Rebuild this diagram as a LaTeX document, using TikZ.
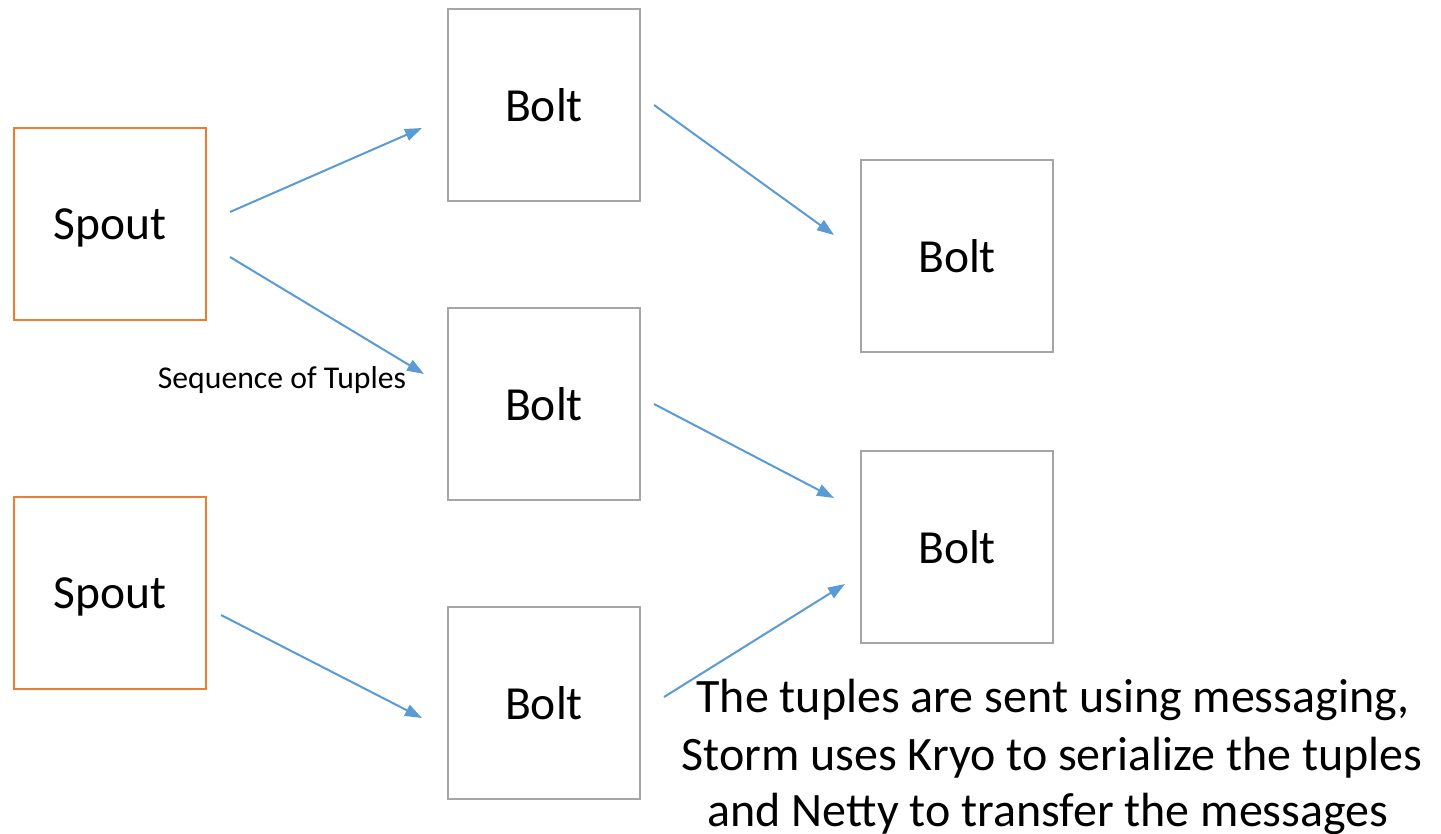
\documentclass[tikz,border=0pt]{standalone}
\usepackage{fontspec}
\setmainfont{Carlito}
\usetikzlibrary{arrows.meta}
\definecolor{spoutorange}{HTML}{ED7D31}
\definecolor{boltgray}{HTML}{A5A5A5}
\definecolor{flowblue}{HTML}{5B9BD5}
\begin{document}
\begin{tikzpicture}[x=1pt,y=-1pt,
  box/.style={draw, line width=2pt, minimum width=192pt, minimum height=192pt,
    inner sep=0pt, text depth=0pt, font=\fontsize{47.5}{56}\selectfont},
  spoutbox/.style={box, draw=spoutorange},
  boltbox/.style={box, draw=boltgray},
  flow/.style={draw=flowblue, line width=2pt,
    -{Triangle[length=17pt,width=12pt]}},
  note/.style={anchor=base, inner sep=0pt, font=\fontsize{48}{57}\selectfont}
]
\useasboundingbox (0,0) rectangle (1441,833);

% sources
\node[spoutbox] (s1) at (110,224) {Spout};
\node[spoutbox] (s2) at (110,593) {Spout};

% processing stages
\node[boltbox] (bA) at (544,105) {Bolt};
\node[boltbox] (bB) at (544,404) {Bolt};
\node[boltbox] (bC) at (544,703) {Bolt};
\node[boltbox] (bD) at (957,256) {Bolt};
\node[boltbox] (bE) at (957,547) {Bolt};

% tuple streams
\draw[flow] ([shift={(23,-12)}]s1.east) -- ([shift={(-25,23)}]bA.west);
\draw[flow] ([shift={(23,33)}]s1.east) -- ([shift={(-23,-30)}]bB.west);
\draw[flow] ([shift={(13,0)}]bA.east) -- ([shift={(-26,-21)}]bD.west);
\draw[flow] ([shift={(13,0)}]bB.east) -- ([shift={(-26,-49)}]bE.west);
\draw[flow] ([shift={(14,22)}]s2.east) -- ([shift={(-25,15)}]bC.west);
\draw[flow] ([shift={(23,-6)}]bC.east) -- ([shift={(-15,37)}]bE.west);

% labels
\node[anchor=base, inner sep=0pt, font=\fontsize{31.7}{38}\selectfont] (seq) at (282,388) {Sequence of Tuples};
\node[note] (note1) at (1053,712) {The tuples are sent using messaging,};
\node[note] (note2) at (1052,770) {Storm uses Kryo to serialize the tuples};
\node[note] (note3) at (1048,826) {and Netty to transfer the messages};
\end{tikzpicture}
\end{document}
